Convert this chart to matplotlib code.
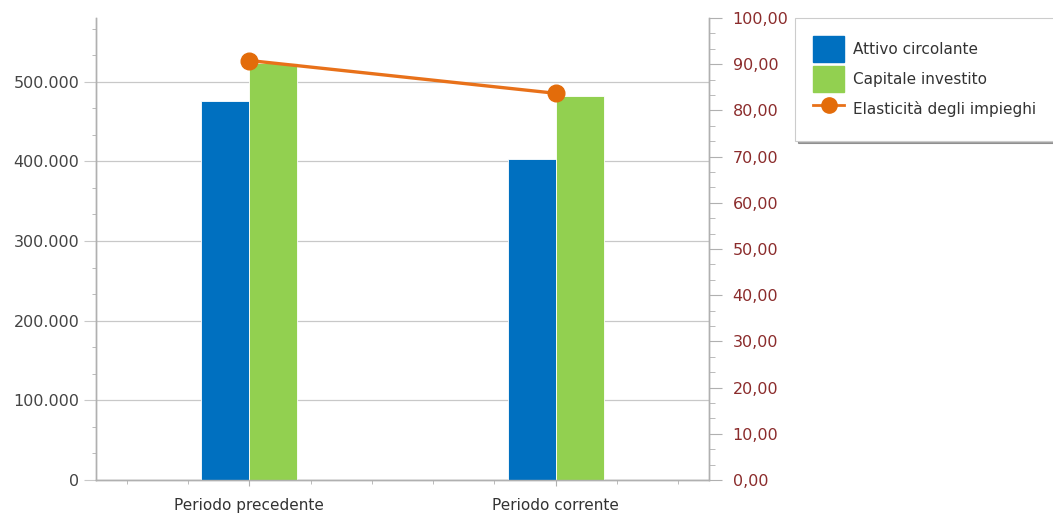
import matplotlib.pyplot as plt
from matplotlib.ticker import FuncFormatter, MultipleLocator
from matplotlib.patches import Patch
from matplotlib.lines import Line2D
import numpy as np

categories = ["Periodo precedente", "Periodo corrente"]
attivo_circolante = [476000, 403500]
capitale_investito = [524000, 482000]
elasticita = [90.8, 83.7]

blue = "#0070C0"
green = "#92D050"
orange = "#E8711A"
grid_col = "#C8C8C8"
axis_col = "#B0B0B0"

plt.rcParams["font.family"] = "DejaVu Sans"
plt.rcParams["font.size"] = 11

fig = plt.figure(figsize=(10.53, 5.14), dpi=100)
ax = fig.add_axes([96 / 1053, 1 - 480 / 514, (709 - 96) / 1053, (480 - 18) / 514])
ax2 = ax.twinx()

x = np.arange(len(categories))
w = 0.157
ax.bar(x - w / 2, attivo_circolante, width=w, color=blue, edgecolor="white", linewidth=0.6, zorder=3)
ax.bar(x + w / 2, capitale_investito, width=w, color=green, edgecolor="white", linewidth=0.6, zorder=3)
ax2.plot(x, elasticita, color=orange, lw=2.4, marker="o", ms=12, mfc="#E36C0A", mec="#E36C0A", zorder=4)

ax.set_xlim(-0.5, 1.5)
ax.set_ylim(0, 580000)
ax2.set_ylim(0, 100)

# left axis
ax.yaxis.set_major_locator(MultipleLocator(100000))
ax.yaxis.set_minor_locator(MultipleLocator(100000 / 3))
ax.yaxis.set_major_formatter(FuncFormatter(lambda v, p: "0" if v == 0 else f"{int(v):,}".replace(",", ".")))
ax.grid(axis="y", color=grid_col, lw=0.9, zorder=0)
ax.tick_params(axis="y", which="major", length=9, color=grid_col, labelcolor="#444444", labelsize=11.5, pad=3)
ax.tick_params(axis="y", which="minor", length=3, color=axis_col)

# x axis
ax.set_xticks(x)
ax.set_xticklabels(categories, color="#333333", fontsize=11)
ax.set_xticks(np.arange(-0.4, 1.5, 0.2), minor=True)
ax.tick_params(axis="x", which="major", length=4, color=axis_col, pad=9)
ax.tick_params(axis="x", which="minor", length=3, color=axis_col)

# right axis
ax2.yaxis.set_major_locator(MultipleLocator(10))
ax2.yaxis.set_minor_locator(MultipleLocator(10 / 3))
ax2.yaxis.set_major_formatter(FuncFormatter(lambda v, p: f"{v:.2f}".replace(".", ",")))
ax2.tick_params(axis="y", which="major", length=9, color=axis_col, labelcolor="#8B2C2C", labelsize=11.5, pad=8)
ax2.tick_params(axis="y", which="minor", length=4, color=axis_col)

for a in (ax, ax2):
    a.spines["top"].set_visible(False)
    for s in ("left", "right", "bottom"):
        a.spines[s].set_color(axis_col)
        a.spines[s].set_linewidth(1.0)

handles = [
    Patch(facecolor=blue, edgecolor=blue),
    Patch(facecolor=green, edgecolor=green),
    Line2D([0], [0], color=orange, lw=2, marker="o", ms=11, mfc="#E36C0A", mec="#E36C0A"),
]
labels = ["Attivo circolante", "Capitale investito", "Elasticità degli impieghi"]
leg = fig.legend(handles, labels, loc="upper left", bbox_to_anchor=(795 / 1053, 1 - 18 / 514),
                 frameon=True, shadow=True, fancybox=False, handlelength=2.0, handleheight=2.24,
                 handletextpad=0.6, labelspacing=0.26, borderpad=1.2, fontsize=11,
                 borderaxespad=0)
leg.get_frame().set_edgecolor("#CCCCCC")
leg.get_frame().set_linewidth(0.8)
for t in leg.get_texts():
    t.set_color("#333333")

fig.savefig("out.png", dpi=100)
